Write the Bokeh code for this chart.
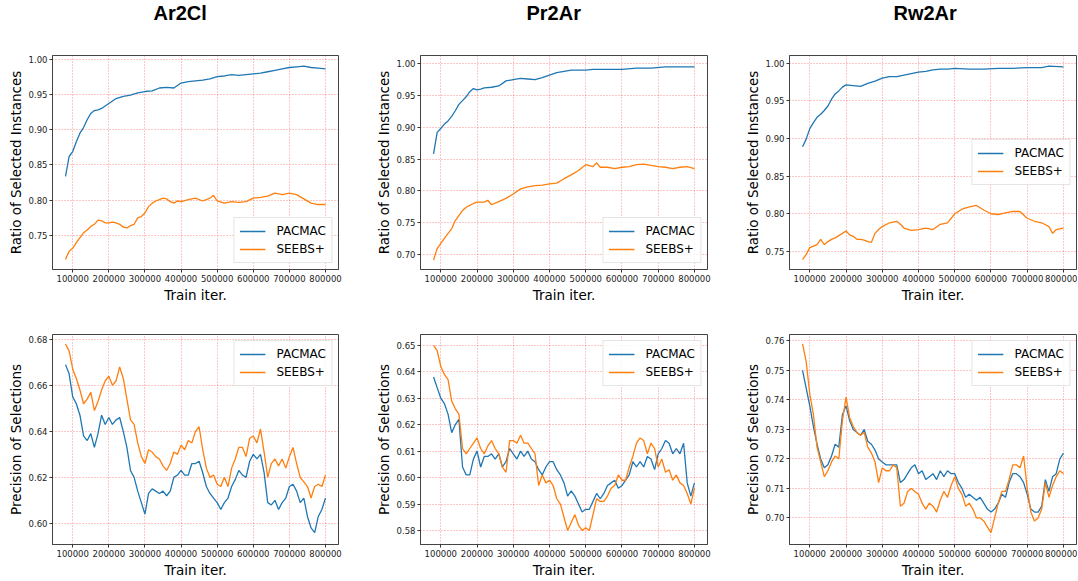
from bokeh.plotting import figure
from bokeh.layouts import column, row
from bokeh.models import Range1d, FixedTicker, PrintfTickFormatter
from bokeh.embed import file_html
from bokeh.resources import INLINE

# ---------------- data ----------------
TITLES = ["Ar2Cl", "Pr2Ar", "Rw2Ar"]
SERIES = ["PACMAC", "SEEBS+"]
COLORS = ["#1f77b4", "#ff7f0e"]
X_TICKS = [100000, 200000, 300000, 400000, 500000, 600000, 700000, 800000]
X_LABEL = "Train iter."
Y_LABEL_TOP = "Ratio of Selected Instances"
Y_LABEL_BOTTOM = "Precision of Selections"

# Ratio of selected instances (top row); x in thousands of iterations
AR2CL_RATIO_PACMAC_X = [80, 90, 100, 110, 120, 130, 140, 150, 160, 170, 180, 200, 220, 240, 260, 280, 300,
                        320, 340, 360, 380, 400, 420, 440, 460, 480, 500, 520, 540, 560, 580, 600, 620, 640,
                        660, 680, 700, 720, 740, 760, 780, 800]
AR2CL_RATIO_PACMAC = [0.834, 0.862, 0.869, 0.883, 0.895, 0.903, 0.914, 0.923, 0.927, 0.928, 0.930, 0.937,
                      0.944, 0.947, 0.949, 0.952, 0.954, 0.955, 0.959, 0.960, 0.959, 0.966, 0.968, 0.969,
                      0.970, 0.972, 0.975, 0.976, 0.978, 0.977, 0.978, 0.979, 0.980, 0.982, 0.984, 0.986,
                      0.988, 0.989, 0.990, 0.988, 0.987, 0.986]
AR2CL_RATIO_SEEBS_X = [80, 90, 100, 110, 120, 130, 140, 150, 160, 170, 180, 190, 200, 210, 220, 230, 240, 250,
                       260, 270, 280, 290, 300, 310, 320, 330, 340, 350, 360, 370, 380, 390, 400, 420, 440,
                       460, 480, 490, 500, 520, 540, 560, 580, 600, 620, 640, 660, 680, 700, 720, 740, 760,
                       780, 800]
AR2CL_RATIO_SEEBS = [0.716, 0.728, 0.732, 0.740, 0.747, 0.754, 0.758, 0.763, 0.766, 0.772,
                     0.771, 0.768, 0.768, 0.769, 0.768, 0.766, 0.762, 0.761, 0.764, 0.766,
                     0.775, 0.777, 0.782, 0.791, 0.796, 0.799, 0.801, 0.803, 0.802, 0.798,
                     0.796, 0.799, 0.798, 0.801, 0.803, 0.799, 0.803, 0.807, 0.799,
                     0.796, 0.798, 0.797, 0.798, 0.803, 0.804, 0.806, 0.810, 0.808, 0.810, 0.808,
                     0.802, 0.796, 0.794, 0.794]

PR2AR_RATIO_PACMAC_X = [80, 90, 100, 110, 120, 130, 140, 150, 160, 170, 180, 190, 200, 210, 220, 240, 260,
                        280, 300, 320, 340, 360, 380, 400, 420, 440, 460, 480, 500, 520, 560, 600, 640, 680,
                        720, 760, 800]
PR2AR_RATIO_PACMAC = [0.858, 0.892, 0.898, 0.905, 0.910, 0.917, 0.926, 0.936, 0.942, 0.948,
                      0.956, 0.961, 0.959, 0.960, 0.962, 0.963, 0.965, 0.973, 0.975, 0.977,
                      0.976, 0.975, 0.978, 0.982, 0.986, 0.988, 0.990, 0.990, 0.990, 0.991,
                      0.991, 0.991, 0.993, 0.993, 0.995, 0.995, 0.995]
PR2AR_RATIO_SEEBS_X = [80, 90, 100, 110, 120, 130, 140, 150, 160, 170, 180, 190, 200, 220, 230, 240, 260,
                       280, 300, 320, 340, 360, 380, 400, 420, 440, 460, 480, 500, 520, 530, 540, 560, 580,
                       600, 620, 640, 660, 680, 700, 720, 740, 760, 780, 800]
PR2AR_RATIO_SEEBS = [0.691, 0.709, 0.717, 0.725, 0.733, 0.740, 0.753, 0.761, 0.769, 0.774,
                     0.777, 0.780, 0.782, 0.782, 0.785, 0.778, 0.783, 0.788, 0.795, 0.803,
                     0.806, 0.808, 0.809, 0.811, 0.812, 0.819, 0.825, 0.832, 0.841, 0.838,
                     0.844, 0.837, 0.837, 0.835, 0.837, 0.838, 0.841, 0.842, 0.840, 0.838,
                     0.837, 0.835, 0.837, 0.838, 0.835]

RW2AR_RATIO_PACMAC_X = [80, 90, 100, 110, 120, 130, 140, 150, 160, 170, 180, 190, 200, 220, 240, 260, 280,
                        300, 320, 340, 360, 380, 400, 420, 440, 460, 480, 500, 540, 580, 620, 660, 700, 740,
                        760, 800]
RW2AR_RATIO_PACMAC = [0.889, 0.899, 0.913, 0.921, 0.928, 0.932, 0.937, 0.943, 0.952, 0.959,
                      0.963, 0.968, 0.971, 0.970, 0.969, 0.973, 0.976, 0.980, 0.982, 0.982,
                      0.984, 0.986, 0.988, 0.989, 0.991, 0.992, 0.992, 0.993, 0.992, 0.992,
                      0.993, 0.993, 0.994, 0.994, 0.996, 0.995]
RW2AR_RATIO_SEEBS_X = [80, 90, 100, 110, 120, 130, 140, 150, 160, 170, 180, 190, 200, 210, 220, 230, 240,
                       250, 260, 270, 280, 290, 300, 320, 340, 350, 360, 380, 400, 420, 440, 460, 480, 500,
                       520, 540, 560, 580, 600, 620, 640, 660, 680, 700, 720, 740, 760, 770, 780, 800]
RW2AR_RATIO_SEEBS = [0.739, 0.746, 0.755, 0.757, 0.759, 0.766, 0.759, 0.763, 0.766, 0.768,
                     0.771, 0.774, 0.777, 0.772, 0.770, 0.766, 0.766, 0.765, 0.763, 0.762,
                     0.774, 0.779, 0.783, 0.788, 0.790, 0.786, 0.781,
                     0.778, 0.779, 0.781, 0.779, 0.786, 0.788, 0.800, 0.806, 0.809, 0.811,
                     0.805, 0.800, 0.799, 0.801, 0.803, 0.803, 0.794, 0.790, 0.788, 0.783,
                     0.774, 0.779, 0.781]

# Precision of selections (bottom row), sampled every 10000 iterations from 80000 to 800000
PREC_X = list(range(80, 801, 10))
AR2CL_PREC_PACMAC = [0.669, 0.665, 0.655, 0.652, 0.647, 0.638, 0.636, 0.639, 0.633, 0.639,
                     0.647, 0.643, 0.646, 0.643, 0.645, 0.646, 0.640, 0.633, 0.623, 0.620,
                     0.614, 0.609, 0.604, 0.613, 0.615, 0.614, 0.613, 0.614, 0.612, 0.614,
                     0.620, 0.621, 0.623, 0.621, 0.621, 0.626, 0.626, 0.627, 0.622, 0.616,
                     0.613, 0.611, 0.609, 0.606, 0.609, 0.611, 0.616, 0.619, 0.623, 0.621,
                     0.620, 0.627, 0.630, 0.628, 0.630, 0.622, 0.609, 0.608, 0.610, 0.606,
                     0.609, 0.611, 0.616, 0.617, 0.614, 0.609, 0.611, 0.603, 0.598, 0.596,
                     0.603, 0.606, 0.611]
AR2CL_PREC_SEEBS = [0.678, 0.675, 0.667, 0.663, 0.658, 0.652, 0.654, 0.657, 0.649, 0.653,
                    0.658, 0.662, 0.664, 0.660, 0.662, 0.668, 0.663, 0.654, 0.645, 0.643,
                    0.635, 0.629, 0.626, 0.632, 0.631, 0.629, 0.628, 0.625, 0.623, 0.626,
                    0.631, 0.630, 0.634, 0.632, 0.636, 0.635, 0.640, 0.642, 0.632, 0.624,
                    0.620, 0.621, 0.617, 0.616, 0.620, 0.616, 0.624, 0.628, 0.633, 0.633,
                    0.629, 0.637, 0.638, 0.635, 0.641, 0.631, 0.620, 0.626, 0.628, 0.625,
                    0.628, 0.624, 0.629, 0.633, 0.626, 0.620, 0.618, 0.616, 0.611, 0.616,
                    0.617, 0.616, 0.621]
PR2AR_PREC_PACMAC = [0.638, 0.634, 0.630, 0.628, 0.624, 0.617, 0.620, 0.622, 0.604, 0.601,
                     0.601, 0.607, 0.610, 0.604, 0.608, 0.608, 0.609, 0.607, 0.609, 0.604,
                     0.606, 0.611, 0.609, 0.607, 0.610, 0.608, 0.610, 0.607, 0.606, 0.603,
                     0.601, 0.604, 0.606, 0.606, 0.603, 0.601, 0.598, 0.593, 0.595, 0.593,
                     0.590, 0.587, 0.588, 0.588, 0.591, 0.594, 0.592, 0.594, 0.597, 0.598,
                     0.599, 0.596, 0.597, 0.599, 0.601, 0.606, 0.604, 0.606, 0.604, 0.608,
                     0.607, 0.603, 0.609, 0.611, 0.614, 0.613, 0.609, 0.611, 0.609, 0.613,
                     0.598, 0.593, 0.598]
PR2AR_PREC_SEEBS = [0.650, 0.648, 0.642, 0.639, 0.637, 0.629, 0.626, 0.624, 0.611, 0.609,
                    0.611, 0.613, 0.615, 0.611, 0.609, 0.612, 0.614, 0.611, 0.609, 0.604,
                    0.602, 0.614, 0.614, 0.613, 0.616, 0.613, 0.613, 0.611, 0.609, 0.597,
                    0.601, 0.598, 0.599, 0.597, 0.592, 0.590, 0.585, 0.580, 0.583, 0.586,
                    0.582, 0.580, 0.581, 0.580, 0.586, 0.592, 0.591, 0.591, 0.593, 0.596,
                    0.597, 0.601, 0.599, 0.599, 0.604, 0.608, 0.613, 0.615, 0.614, 0.609,
                    0.613, 0.611, 0.604, 0.607, 0.602, 0.603, 0.599, 0.601, 0.598, 0.597,
                    0.594, 0.590, 0.596]
RW2AR_PREC_PACMAC = [0.750, 0.744, 0.738, 0.731, 0.725, 0.720, 0.717, 0.718, 0.721, 0.725,
                     0.724, 0.735, 0.738, 0.733, 0.730, 0.729, 0.728, 0.730, 0.726, 0.725,
                     0.723, 0.720, 0.719, 0.718, 0.718, 0.718, 0.718, 0.712, 0.713, 0.715,
                     0.717, 0.718, 0.715, 0.716, 0.713, 0.714, 0.715, 0.713, 0.716, 0.714,
                     0.716, 0.715, 0.715, 0.712, 0.710, 0.707, 0.708, 0.707, 0.706, 0.707,
                     0.705, 0.703, 0.702, 0.703, 0.705, 0.708, 0.707, 0.712, 0.715, 0.715,
                     0.714, 0.712, 0.708, 0.703, 0.702, 0.702, 0.704, 0.713, 0.709, 0.714,
                     0.715, 0.720, 0.722]
RW2AR_PREC_SEEBS = [0.759, 0.753, 0.742, 0.735, 0.724, 0.719, 0.714, 0.716, 0.719, 0.721,
                    0.720, 0.733, 0.741, 0.734, 0.731, 0.729, 0.728, 0.729, 0.724, 0.722,
                    0.719, 0.712, 0.717, 0.716, 0.716, 0.718, 0.717, 0.704, 0.705, 0.709,
                    0.710, 0.709, 0.708, 0.705, 0.703, 0.705, 0.704, 0.702, 0.706, 0.709,
                    0.707, 0.711, 0.714, 0.710, 0.708, 0.704, 0.705, 0.703, 0.700, 0.700,
                    0.699, 0.697, 0.695, 0.700, 0.705, 0.709, 0.709, 0.713, 0.718, 0.718,
                    0.717, 0.721, 0.710, 0.702, 0.699, 0.700, 0.703, 0.712, 0.707, 0.711,
                    0.714, 0.716, 0.715]

TOP_Y_TICKS = [[0.75, 0.80, 0.85, 0.90, 0.95, 1.00],
               [0.70, 0.75, 0.80, 0.85, 0.90, 0.95, 1.00],
               [0.75, 0.80, 0.85, 0.90, 0.95, 1.00]]
BOTTOM_Y_TICKS = [[0.60, 0.62, 0.64, 0.66, 0.68],
                  [0.58, 0.59, 0.60, 0.61, 0.62, 0.63, 0.64, 0.65],
                  [0.70, 0.71, 0.72, 0.73, 0.74, 0.75, 0.76]]
TOP_Y_RANGES = [(0.702, 1.005), (0.676, 1.013), (0.726, 1.010)]
BOTTOM_Y_RANGES = [(0.5908, 0.6821), (0.5747, 0.6541), (0.6910, 0.7622)]

TOP_DATA = [
    ((AR2CL_RATIO_PACMAC_X, AR2CL_RATIO_PACMAC), (AR2CL_RATIO_SEEBS_X, AR2CL_RATIO_SEEBS)),
    ((PR2AR_RATIO_PACMAC_X, PR2AR_RATIO_PACMAC), (PR2AR_RATIO_SEEBS_X, PR2AR_RATIO_SEEBS)),
    ((RW2AR_RATIO_PACMAC_X, RW2AR_RATIO_PACMAC), (RW2AR_RATIO_SEEBS_X, RW2AR_RATIO_SEEBS)),
]
BOTTOM_DATA = [
    ((PREC_X, AR2CL_PREC_PACMAC), (PREC_X, AR2CL_PREC_SEEBS)),
    ((PREC_X, PR2AR_PREC_PACMAC), (PREC_X, PR2AR_PREC_SEEBS)),
    ((PREC_X, RW2AR_PREC_PACMAC), (PREC_X, RW2AR_PREC_SEEBS)),
]
TOP_LEGEND_LOC = ["bottom_right", "bottom_right", "center_right"]
BOTTOM_LEGEND_LOC = ["top_right", "top_right", "top_right"]

# ---------------- layout ----------------
WIDTHS = [368, 369, 340]
RIGHT_BORDERS = [30, 30, 1]
TITLE_OFFSETS = [101, 106, 104]
SHIFT_UP = 30
AX_FONT = "DejaVu Sans"


def make_fig(col, top, series, yticks, yrange, legend_loc, ylabel):
    if top:
        h, mbt, mbb = 322 + SHIFT_UP, 55 + SHIFT_UP, 53
    else:
        h, mbt, mbb = 258, 12, 32
    p = figure(width=WIDTHS[col], height=h, output_backend="svg", toolbar_location=None,
               x_range=Range1d(44000, 836000), y_range=Range1d(*yrange),
               min_border_left=52, min_border_right=RIGHT_BORDERS[col],
               min_border_top=mbt, min_border_bottom=mbb,
               background_fill_color="white", border_fill_color="white")
    if top:
        p.title.text = TITLES[col]
        p.title.align = "left"
        p.title.vertical_align = "top"
        p.title.standoff = mbt - 26
        p.title.offset = TITLE_OFFSETS[col]
        p.title.text_font = "Liberation Sans"
        p.title.text_font_style = "bold"
        p.title.text_font_size = "20px"
        p.title.text_color = "black"
    for (xs, ys), name, color in zip(series, SERIES, COLORS):
        n = min(len(xs), len(ys))
        p.line([x * 1000 for x in xs[:n]], ys[:n], line_color=color, line_width=1.3,
               legend_label=name)
    p.xaxis.ticker = FixedTicker(ticks=X_TICKS)
    p.xaxis.formatter = PrintfTickFormatter(format="%d")
    p.yaxis.ticker = FixedTicker(ticks=yticks)
    p.yaxis.formatter = PrintfTickFormatter(format="%.2f")
    p.xaxis.axis_label = X_LABEL
    p.yaxis.axis_label = ylabel
    for ax in (p.xaxis[0], p.yaxis[0]):
        ax.axis_label_text_font = AX_FONT
        ax.axis_label_text_font_size = "13.5px"
        ax.axis_label_text_font_style = "normal"
        ax.axis_label_text_color = "black"
        ax.major_label_text_font = AX_FONT
        ax.major_label_text_font_size = "8.5px"
        ax.major_label_text_color = "#222222"
        ax.major_tick_in = 0
        ax.major_tick_out = 3
        ax.major_tick_line_color = "#333333"
        ax.minor_tick_line_color = None
        ax.axis_line_color = "#444444"
        ax.major_label_standoff = 2
        ax.axis_label_standoff = 2
    p.grid.grid_line_color = "red"
    p.grid.grid_line_alpha = 0.45
    p.grid.grid_line_dash = "1 2"
    p.grid.grid_line_width = 1
    p.outline_line_color = "#444444"
    p.outline_line_width = 1
    p.outline_line_alpha = 1
    lg = p.legend[0]
    lg.location = legend_loc
    lg.label_text_font = AX_FONT
    lg.label_text_font_size = "12px"
    lg.label_text_color = "black"
    lg.glyph_width = 26
    lg.glyph_height = 16
    lg.label_height = 16
    lg.label_standoff = 11
    lg.padding = 5
    lg.spacing = 2
    lg.margin = 6
    lg.border_line_color = "#cccccc"
    lg.border_line_width = 1
    lg.background_fill_color = "white"
    lg.background_fill_alpha = 0.85
    return p


top_figs = [make_fig(i, True, TOP_DATA[i], TOP_Y_TICKS[i], TOP_Y_RANGES[i], TOP_LEGEND_LOC[i], Y_LABEL_TOP)
            for i in range(3)]
bottom_figs = [make_fig(i, False, BOTTOM_DATA[i], BOTTOM_Y_TICKS[i], BOTTOM_Y_RANGES[i],
                        BOTTOM_LEGEND_LOC[i], Y_LABEL_BOTTOM) for i in range(3)]

layout = column(row(*top_figs), row(*bottom_figs), margin=(-SHIFT_UP, 0, 0, 0))
open("out.html", "w").write(file_html(layout, INLINE))
